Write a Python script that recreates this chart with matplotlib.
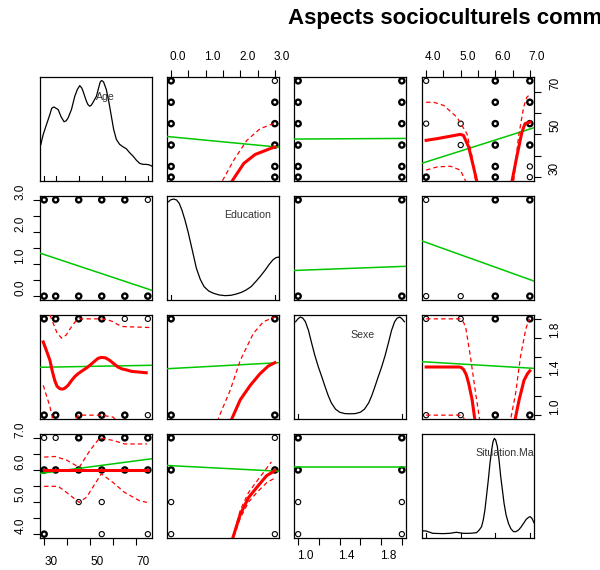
import matplotlib
matplotlib.use("Agg")
import matplotlib.pyplot as plt
import matplotlib.transforms as mtrans
from matplotlib.ticker import FixedLocator, FormatStrFormatter

plt.rcParams['font.family'] = ['Liberation Sans', 'DejaVu Sans']

TITLE = "Aspects socioculturels communs"
var_names = ["Age", "Education", "Sexe", "Situation.Maritale"]
var_ranges = [(30, 75), (0, 3), (1, 2), (4, 7)]
major_ticks = [[30, 50, 70], [0, 1, 2, 3], [1.0, 1.4, 1.8], [4, 5, 6, 7]]
minor_ticks = [[40, 60], [0.5, 1.5, 2.5], [1.2, 1.6, 2.0], [4.5, 5.5, 6.5]]
tick_fmt = ["%d", "%.1f", "%.1f", "%.1f"]

# observed values (rug marks on the diagonal)
age_values = [30, 35, 45, 55, 65, 75]
edu_values = [0, 3]
sexe_values = [1, 2]
sit_values = [4, 5, 6, 7]

# density curves on the diagonal (y as fraction of panel height)
age_dens_x = [28.57, 29.58, 31.02, 32.47, 33.3, 34.2, 35.1, 36.07, 37.4, 38.67, 39.6, 40.4,
              41.85, 43.29, 44.4, 45.45, 46.3, 46.9, 48.34, 49.0, 49.78, 50.5, 51.23, 52.67,
              53.82, 54.3, 54.83, 55.3, 55.84, 57.0, 58.15, 59.16, 60.17, 61.33, 62.77, 64.21,
              65.66, 67.1, 68.54, 69.99, 71.43, 72.87, 74.32, 75.76, 77.2]
age_dens_y = [0.352, 0.447, 0.543, 0.639, 0.70, 0.712, 0.70, 0.687, 0.615, 0.569, 0.58, 0.607,
              0.687, 0.814, 0.88, 0.917, 0.895, 0.862, 0.767, 0.735, 0.719, 0.73, 0.757, 0.814,
              0.91, 0.95, 0.965, 0.962, 0.949, 0.878, 0.751, 0.623, 0.495, 0.40, 0.352, 0.329,
              0.31, 0.272, 0.24, 0.201, 0.17, 0.16, 0.16, 0.154, 0.138]
edu_dens_x = [-0.075, -0.02, 0.068, 0.157, 0.234, 0.311, 0.40, 0.488, 0.566, 0.654, 0.731,
              0.842, 0.953, 1.085, 1.229, 1.395, 1.56, 1.726, 1.892, 2.036, 2.168, 2.312,
              2.445, 2.588, 2.721, 2.831, 2.942, 3.03, 3.108, 3.185]
edu_dens_y = [0.945, 0.962, 0.971, 0.962, 0.929, 0.865, 0.769, 0.657, 0.545, 0.417, 0.304,
              0.199, 0.128, 0.087, 0.064, 0.048, 0.042, 0.045, 0.058, 0.074, 0.096, 0.128,
              0.176, 0.231, 0.288, 0.34, 0.385, 0.407, 0.413, 0.391]
sexe_dens_x = [0.975, 1.0, 1.02, 1.045, 1.07, 1.10, 1.13, 1.16, 1.195, 1.23, 1.26, 1.29,
               1.32, 1.36, 1.40, 1.45, 1.50, 1.55, 1.60, 1.64, 1.68, 1.71, 1.74, 1.77, 1.805,
               1.84, 1.87, 1.90, 1.93, 1.955, 1.98, 2.0, 2.025]
sexe_dens_y = [0.935, 0.965, 0.98, 0.97, 0.935, 0.85, 0.73, 0.615, 0.50, 0.40, 0.31, 0.225,
               0.155, 0.095, 0.065, 0.052, 0.05, 0.052, 0.065, 0.095, 0.155, 0.225, 0.31,
               0.40, 0.50, 0.615, 0.73, 0.85, 0.935, 0.97, 0.98, 0.965, 0.935]
sit_dens_x = [3.825, 4.0, 4.194, 4.486, 4.68, 4.875, 5.069, 5.263, 5.458, 5.536, 5.603,
              5.652, 5.70, 5.749, 5.798, 5.846, 5.895, 5.934, 5.973, 6.012, 6.06, 6.109,
              6.157, 6.206, 6.254, 6.313, 6.381, 6.449, 6.527, 6.595, 6.673, 6.74, 6.818,
              6.896, 6.964, 7.012, 7.061, 7.13]
sit_dens_y = [0.07, 0.067, 0.045, 0.042, 0.045, 0.055, 0.045, 0.045, 0.051, 0.077, 0.109,
              0.173, 0.269, 0.413, 0.558, 0.718, 0.846, 0.926, 0.958, 0.942, 0.878, 0.75,
              0.59, 0.462, 0.333, 0.221, 0.141, 0.09, 0.061, 0.061, 0.077, 0.103, 0.141,
              0.18, 0.199, 0.205, 0.189, 0.141]

# scatter points per panel: (x, y, overplotted)
pts_age_edu = [(0, 75, 1), (0, 65, 1), (0, 55, 1), (0, 45, 1), (0, 35, 1), (0, 30, 1),
               (3, 75, 0), (3, 65, 1), (3, 55, 1), (3, 45, 1), (3, 35, 1), (3, 30, 1)]
pts_age_sexe = [(1, a, 1) for a in age_values] + [(2, a, 1) for a in age_values]
pts_age_sit = [(4, 75, 0), (4, 55, 0), (4, 30, 1), (5, 55, 0), (5, 45, 0),
               (6, 75, 1), (6, 65, 1), (6, 55, 1), (6, 45, 1), (6, 35, 1), (6, 30, 1),
               (7, 75, 1), (7, 65, 1), (7, 55, 1), (7, 45, 1), (7, 35, 0), (7, 30, 0)]
pts_edu_age = [(30, 3, 1), (35, 3, 1), (45, 3, 1), (55, 3, 1), (65, 3, 1), (75, 3, 0),
               (30, 0, 1), (35, 0, 1), (45, 0, 1), (55, 0, 1), (65, 0, 1), (75, 0, 1)]
pts_edu_sexe = [(1, 3, 1), (2, 3, 1), (1, 0, 1), (2, 0, 1)]
pts_edu_sit = [(4, 3, 0), (6, 3, 1), (7, 3, 1), (4, 0, 0), (5, 0, 0), (6, 0, 1), (7, 0, 1)]
pts_sexe_age = [(30, 2, 1), (35, 2, 1), (45, 2, 1), (55, 2, 1), (65, 2, 0), (75, 2, 0),
                (30, 1, 1), (35, 1, 1), (45, 1, 1), (55, 1, 1), (65, 1, 1), (75, 1, 0)]
pts_sexe_edu = [(0, 2, 1), (3, 2, 1), (0, 1, 1), (3, 1, 1)]
pts_sexe_sit = [(4, 2, 0), (5, 2, 0), (6, 2, 1), (7, 2, 1),
                (4, 1, 0), (5, 1, 0), (6, 1, 1), (7, 1, 1)]
pts_sit_age = [(30, 7, 0), (35, 7, 0), (45, 7, 1), (55, 7, 1), (65, 7, 1), (75, 7, 1),
               (30, 6, 1), (35, 6, 1), (45, 6, 1), (55, 6, 1), (65, 6, 1), (75, 6, 1),
               (45, 5, 0), (55, 5, 0), (30, 4, 1), (55, 4, 0), (75, 4, 0)]
pts_sit_edu = [(0, 7, 1), (3, 7, 0), (0, 6, 1), (3, 6, 1), (0, 5, 0), (0, 4, 0), (3, 4, 0)]
pts_sit_sexe = [(1, 7, 1), (2, 7, 1), (1, 6, 1), (2, 6, 1),
                (1, 5, 0), (2, 5, 0), (1, 4, 0), (2, 4, 0)]

# linear fits (green), end values at panel edges
lin_age_edu = ([-0.12, 3.12], [49.0, 44.0])
lin_age_sexe = ([0.96, 2.04], [47.8, 48.1])
lin_age_sit = ([3.88, 7.12], [36.5, 53.1])
lin_edu_age = ([28.2, 76.8], [1.34, 0.18])
lin_edu_sexe = ([0.96, 2.04], [0.80, 0.93])
lin_edu_sit = ([3.88, 7.12], [1.72, 0.47])
lin_sexe_age = ([28.2, 76.8], [1.497, 1.518])
lin_sexe_edu = ([-0.12, 3.12], [1.482, 1.545])
lin_sexe_sit = ([3.88, 7.12], [1.555, 1.486])
lin_sit_age = ([28.2, 76.8], [5.89, 6.35])
lin_sit_edu = ([-0.12, 3.12], [6.14, 5.96])
lin_sit_sexe = ([0.96, 2.04], [6.08, 6.08])

# smoothers (red solid) and spread (red dashed)
sm_age_edu = ([1.70, 1.76, 2.10, 2.43, 2.86, 3.0], [26.0, 28.1, 36.4, 40.6, 43.3, 44.1])
sp_age_edu_hi = ([1.42, 1.48, 1.81, 2.19, 2.57, 3.0], [25.0, 28.2, 37.9, 47.2, 52.6, 55.3])

sm_age_sit_a = ([4.0, 4.32, 4.99, 5.08, 5.23, 5.37, 5.47, 5.52],
                [47.2, 48.0, 50.0, 49.5, 44.1, 34.8, 27.8, 24.0])
sm_age_sit_b = ([6.42, 6.48, 6.62, 6.77, 6.86, 7.0], [24.0, 27.8, 39.4, 51.0, 55.0, 55.7])
sp_age_sit_a_hi = ([4.0, 4.22, 4.51, 4.89, 5.18, 5.33, 5.45],
                   [65.0, 65.0, 63.5, 58.0, 50.3, 39.4, 26.0])
sp_age_sit_a_lo = ([4.0, 4.32, 4.7, 4.99, 5.13, 5.2], [33.3, 34.8, 35.1, 33.3, 28.6, 25.0])
sp_age_sit_b_hi = ([6.48, 6.53, 6.67, 6.82, 6.91, 7.0], [25.0, 27.8, 48.7, 62.7, 67.3, 68.6])

sm_sexe_age = ([29.6, 31.0, 32.5, 33.5, 34.6, 35.6, 36.8, 38.0, 39.0, 40.4, 41.9, 43.3,
                44.7, 46.5, 48.4, 50.2, 51.9, 53.4, 54.8, 56.6, 58.4, 60.2, 62.0, 63.8,
                65.7, 67.8, 70.0, 74.3],
               [1.76, 1.67, 1.57, 1.46, 1.36, 1.30, 1.275, 1.27, 1.28, 1.31, 1.36, 1.40,
                1.43, 1.46, 1.49, 1.525, 1.56, 1.59, 1.60, 1.595, 1.57, 1.535, 1.50, 1.48,
                1.47, 1.455, 1.45, 1.44])
sp_sexe_age_hi = ([32.5, 34.0, 35.5, 37.5, 39.5, 41.9, 43.5, 45.2, 54.8, 57.5, 60.0, 62.0,
                   64.2, 75.8],
                  [2.04, 1.95, 1.86, 1.80, 1.83, 1.92, 1.97, 2.0, 2.0, 1.99, 1.97, 1.94,
                   1.92, 1.91])
sp_sexe_age_lo = ([29.6, 32.5, 34.0, 38.0, 42.0, 45.2, 54.8, 59.9, 63.0],
                  [1.31, 1.09, 0.92, 0.85, 0.93, 1.0, 1.0, 0.98, 0.90])

sm_sexe_edu = ([1.70, 1.74, 2.0, 2.29, 2.57, 2.81, 3.0], [0.90, 0.95, 1.16, 1.31, 1.43, 1.51, 1.545])
sp_sexe_edu_hi = ([1.35, 1.38, 1.71, 2.0, 2.38, 2.67, 3.0], [0.93, 0.98, 1.26, 1.57, 1.85, 1.97, 2.02])

sm_sexe_sit_a = ([4.0, 4.95, 5.02, 5.09, 5.16, 5.23, 5.33, 5.41, 5.43],
                 [1.5, 1.5, 1.495, 1.47, 1.42, 1.33, 1.16, 0.95, 0.90])
sm_sexe_sit_b = ([6.55, 6.57, 6.69, 6.83, 6.93, 7.0], [0.90, 0.95, 1.16, 1.36, 1.43, 1.46])
sp_sexe_sit_a_hi = ([4.0, 4.98, 5.07, 5.14, 5.28, 5.43, 5.55, 5.57],
                    [2.0, 2.0, 1.97, 1.92, 1.61, 1.23, 0.95, 0.90])
sp_sexe_sit_a_lo = ([4.0, 4.98, 5.09, 5.15], [1.0, 1.0, 0.97, 0.90])
sp_sexe_sit_b_hi = ([6.42, 6.44, 6.59, 6.73, 6.88, 6.95, 7.0], [0.90, 0.95, 1.23, 1.61, 1.89, 1.97, 2.0])

sm_sit_age = ([30, 75], [6.0, 6.0])
sp_sit_age_hi = ([30, 34.6, 39.7, 45.2, 49.8, 54.1, 59.9, 64.9, 74.6],
                 [6.40, 6.42, 6.31, 6.08, 6.6, 7.0, 6.92, 6.81, 6.81])
sp_sit_age_lo = ([30, 36.1, 39.7, 45.2, 48.4, 54.8, 59.9, 64.9, 71.4, 74.6],
                 [5.49, 5.49, 5.30, 4.99, 5.15, 5.88, 5.61, 5.30, 5.04, 4.99])

sm_sit_edu = ([1.74, 1.78, 2.0, 2.24, 2.48, 2.76, 3.0], [3.7, 3.87, 4.62, 5.14, 5.46, 5.82, 5.98])
sp_sit_edu_hi = ([1.75, 1.78, 2.0, 2.24, 2.48, 2.76, 2.9], [3.7, 3.87, 4.75, 5.3, 5.65, 6.05, 6.25])
sp_sit_edu_lo = ([1.77, 1.80, 2.0, 2.24, 2.48, 2.76, 3.0], [3.7, 3.87, 4.5, 5.0, 5.3, 5.6, 5.75])

diag = {0: (age_dens_x, age_dens_y, age_values), 1: (edu_dens_x, edu_dens_y, edu_values),
        2: (sexe_dens_x, sexe_dens_y, sexe_values), 3: (sit_dens_x, sit_dens_y, sit_values)}
diag_label_pos = {0: (0.58, 0.81, 'center'), 1: (0.717, 0.82, 'center'),
                  2: (0.613, 0.81, 'center'), 3: (0.48, 0.815, 'left')}

panels = {
    (0, 1): (pts_age_edu, lin_age_edu, [sm_age_edu], [sp_age_edu_hi]),
    (0, 2): (pts_age_sexe, lin_age_sexe, [], []),
    (0, 3): (pts_age_sit, lin_age_sit, [sm_age_sit_a, sm_age_sit_b],
             [sp_age_sit_a_hi, sp_age_sit_a_lo, sp_age_sit_b_hi]),
    (1, 0): (pts_edu_age, lin_edu_age, [], []),
    (1, 2): (pts_edu_sexe, lin_edu_sexe, [], []),
    (1, 3): (pts_edu_sit, lin_edu_sit, [], []),
    (2, 0): (pts_sexe_age, lin_sexe_age, [sm_sexe_age], [sp_sexe_age_hi, sp_sexe_age_lo]),
    (2, 1): (pts_sexe_edu, lin_sexe_edu, [sm_sexe_edu], [sp_sexe_edu_hi]),
    (2, 3): (pts_sexe_sit, lin_sexe_sit, [sm_sexe_sit_a, sm_sexe_sit_b],
             [sp_sexe_sit_a_hi, sp_sexe_sit_a_lo, sp_sexe_sit_b_hi]),
    (3, 0): (pts_sit_age, lin_sit_age, [sm_sit_age], [sp_sit_age_hi, sp_sit_age_lo]),
    (3, 1): (pts_sit_edu, lin_sit_edu, [sm_sit_edu], [sp_sit_edu_hi, sp_sit_edu_lo]),
    (3, 2): (pts_sit_sexe, lin_sit_sexe, [], []),
}

W, H = 600, 570
col_left = [40, 167, 294, 422]
row_top = [77, 196, 315, 434]
pw, ph = 112, 104

fig = plt.figure(figsize=(W / 100, H / 100), dpi=100)
fig.text(288 / W, 1 - 24 / H, TITLE, fontsize=16, fontweight='bold', ha='left', va='baseline')

xshift = mtrans.ScaledTranslation(7 / 100, 0, fig.dpi_scale_trans)
yshift = mtrans.ScaledTranslation(0, 8.5 / 100, fig.dpi_scale_trans)


def lims(i):
    lo, hi = var_ranges[i]
    pad = 0.04 * (hi - lo)
    return lo - pad, hi + pad


def add_axis(ax, which, i, side, pad):
    """R style outer axis on one side of a panel, labels nudged like the original device."""
    axis = ax.xaxis if which == 'x' else ax.yaxis
    axis.set_major_locator(FixedLocator(major_ticks[i]))
    axis.set_minor_locator(FixedLocator(minor_ticks[i]))
    axis.set_major_formatter(FormatStrFormatter(tick_fmt[i]))
    axis.set_ticks_position(side)
    kw = {side: True, 'label' + side: True}
    if which == 'x':
        ax.tick_params(axis='x', which='both', direction='out', length=4.8, width=0.8,
                       pad=pad, labelsize=8.5, **kw)
    else:
        ax.tick_params(axis='y', which='both', direction='out', length=4.8, width=0.8,
                       pad=pad, labelsize=8.5, labelrotation=90, **kw)
    shift = xshift if which == 'x' else yshift
    for t in axis.get_major_ticks():
        for lab in (t.label1, t.label2):
            lab.set_transform(lab.get_transform() + shift)
            if which == 'y':
                lab.set_va('center')


for r in range(4):
    for c in range(4):
        ax = fig.add_axes([col_left[c] / W, 1 - (row_top[r] + ph) / H, pw / W, ph / H])
        ax.set_xlim(*lims(c))
        if r == c:
            ax.set_ylim(0, 1)
        else:
            ax.set_ylim(*lims(r))
        for s in ax.spines.values():
            s.set_linewidth(0.9)
        ax.tick_params(which='both', left=False, right=False, top=False, bottom=False,
                       labelleft=False, labelright=False, labeltop=False, labelbottom=False)

        if r == 0 and c in (1, 3):
            add_axis(ax, 'x', c, 'top', 5.5)
        if r == 3 and c in (0, 2):
            add_axis(ax, 'x', c, 'bottom', 8.5 if c == 0 else 3.5)
        if c == 0 and r in (1, 3):
            add_axis(ax, 'y', r, 'left', 5)
        if c == 3 and r in (0, 2):
            add_axis(ax, 'y', r, 'right', 6)

        if r == c:
            dx, dy, rug = diag[r]
            ax.plot(dx, dy, color='black', lw=0.9)
            ax.plot([v for v in rug for _ in (0, 1, 2)],
                    [p for _ in rug for p in (0, 0.045, float('nan'))],
                    color='black', lw=0.8,
                    transform=mtrans.blended_transform_factory(ax.transData, ax.transAxes))
            lx, ly, ha = diag_label_pos[r]
            ax.text(lx, ly, var_names[r], transform=ax.transAxes, ha=ha, va='center',
                    fontsize=7.6, color='#333333', clip_on=True)
            continue

        pts, lin, smooths, spreads = panels[(r, c)]
        xs = [p[0] for p in pts]
        ys = [p[1] for p in pts]
        lws = [1.7 if p[2] else 0.8 for p in pts]
        ax.scatter(xs, ys, s=14, facecolors='none', edgecolors='black', linewidths=lws,
                   zorder=2)
        ax.plot(lin[0], lin[1], color='#00C800', lw=1.1, zorder=3)
        for sx, sy in smooths:
            ax.plot(sx, sy, color='#FF0000', lw=2.2, zorder=4)
        for sx, sy in spreads:
            ax.plot(sx, sy, color='#FF0000', lw=0.9, ls=(0, (3.5, 2.5)), zorder=4)

fig.savefig("out.png", dpi=100)
